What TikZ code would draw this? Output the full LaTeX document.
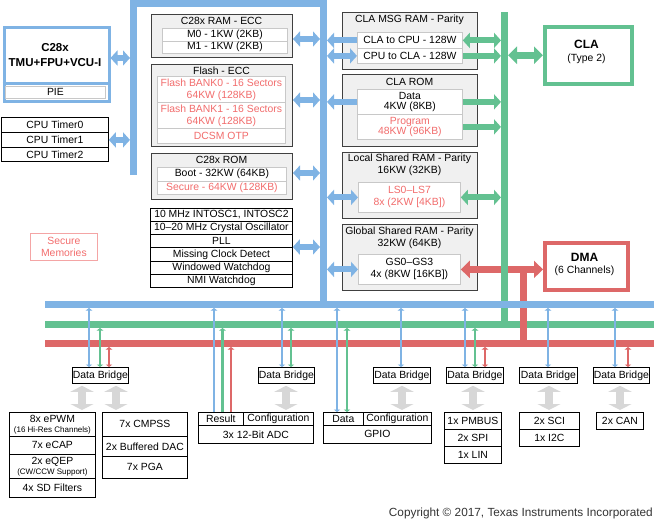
\documentclass[tikz,border=0pt]{standalone}
\usepackage{fontspec}
\setmainfont{Liberation Sans}
\usetikzlibrary{arrows.meta}
\definecolor{cblue}{RGB}{127,179,228}
\definecolor{cgreen}{RGB}{99,193,145}
\definecolor{cred}{RGB}{221,104,104}
\definecolor{cpink}{RGB}{242,108,108}
\definecolor{cpinkline}{RGB}{244,165,165}
\definecolor{memfill}{RGB}{240,240,240}
\definecolor{memline}{RGB}{64,64,64}
\definecolor{rowline}{RGB}{200,200,200}
\definecolor{cgray}{RGB}{215,215,215}
\newcommand{\fs}{\fontsize{10.4}{12}\selectfont}
\newcommand{\fss}{\fontsize{8}{9.5}\selectfont}
\newcommand{\bx}[7]{\node[#1,anchor=north west,minimum width={(#5-#3)*1pt},minimum height={(#6-#4)*1pt}] (#2) at (#3,#4) {#7};}
\newcommand{\tarr}[4]{\draw[thinar,#1] (#2,0 |- #3) -- (#2,0 |- #4);}
\newcommand{\garr}[3]{\draw[grayar] (#1,0 |- #2) -- (#1,0 |- #3);}
\begin{document}
\begin{tikzpicture}[x=1pt,y=-1pt,
 box/.style={draw=black,line width=0.8pt,fill=white,inner sep=0pt,font=\fs,align=center},
 mem/.style={draw=memline,line width=1pt,fill=memfill,inner sep=0pt},
 row/.style={draw=rowline,line width=0.8pt,fill=white,inner sep=0pt,font=\fs,align=center},
 tight/.style={font=\fontsize{10.4}{10.5}\selectfont},
 pk/.style={text=cpink},
 lbl/.style={inner sep=0pt,font=\fs,align=center},
 big/.style={inner sep=0pt,font=\bfseries\fontsize{12}{14}\selectfont},
 cpubox/.style={draw=cblue,line width=3pt,fill=white,inner sep=0pt},
 fat/.style={line width=6pt,>={Triangle[width=15pt,length=7pt]}},
 fatbig/.style={line width=6.5pt,>={Triangle[width=17pt,length=9pt]}},
 thinar/.style={line width=2.6pt,>={Triangle[width=6.5pt,length=2.5pt]}},
 grayar/.style={draw=cgray,line width=8pt,<->,>={Triangle[width=23pt,length=6pt]},shorten <=2pt,shorten >=2pt},
 bus/.style={line width=7pt},
]
\useasboundingbox (0,0) rectangle (654,520);
% reference coordinates of the buses
\coordinate (bL) at (130,0);
\coordinate (bR1) at (320,0);
\coordinate (bR2) at (327,0);
\coordinate (gV1) at (501,0);
\coordinate (gV2) at (508,0);
\coordinate (rV) at (523.5,0);
\coordinate (bB) at (0,308);
\coordinate (gB) at (0,328);
\coordinate (rB) at (0,347);

% ---------- C28x ----------
\bx{cpubox}{c28}{2.5}{25.5}{107.5}{99.5}{}
\draw[cblue,line width=3pt] (c28.west |- 0,83) -- (c28.east |- 0,83);
\bx{row}{pie}{5}{86}{105}{97.5}{PIE}
\node[inner sep=0pt,font=\bfseries\fontsize{11.5}{14}\selectfont] (c28a) at (55,48) {C28x};
\node[inner sep=0pt,font=\bfseries\fontsize{11.5}{14}\selectfont] (c28b) at (55,63) {TMU+FPU+VCU-I};

% ---------- Timers ----------
\bx{box}{t0}{1}{117}{108}{132}{CPU Timer0}
\bx{box}{t1}{1}{132}{108}{147}{CPU Timer1}
\bx{box}{t2}{1}{147}{108}{161}{CPU Timer2}

% ---------- Secure memories legend ----------
\bx{draw=cpinkline,line width=0.8pt,inner sep=0pt,font=\fs,align=center,pk}{secm}{30}{233}{97}{260}{Secure\\Memories}

% ---------- middle column ----------
\bx{mem}{ram}{151}{14}{292}{57}{}
\node[lbl] (ramT) at (221.5,21) {C28x RAM - ECC};
\bx{row}{m0}{162}{28}{287}{40.5}{M0 - 1KW (2KB)}
\bx{row}{m1}{162}{40.5}{287}{53}{M1 - 1KW (2KB)}

\bx{mem}{flash}{151}{64}{292}{146}{}
\node[lbl] (flashT) at (221.5,70.5) {Flash - ECC};
\bx{row,pk}{b0}{157}{76}{285}{102}{Flash BANK0 - 16 Sectors\\64KW (128KB)}
\bx{row,pk}{b1}{157}{102}{285}{128}{Flash BANK1 - 16 Sectors\\64KW (128KB)}
\bx{row,pk}{dcsm}{157}{128}{285}{143}{DCSM OTP}

\bx{mem}{rom}{151}{153}{292}{199}{}
\node[lbl] (romT) at (221.5,160) {C28x ROM};
\bx{row}{boot}{157}{167}{286}{180.5}{Boot - 32KW (64KB)}
\bx{row,pk}{sec}{157}{180.5}{286}{194}{Secure - 64KW (128KB)}

\bx{box}{ck1}{150}{208}{292}{221}{10 MHz INTOSC1, INTOSC2}
\bx{box}{ck2}{150}{221}{292}{234}{10–20 MHz Crystal Oscillator}
\bx{box}{ck3}{150}{234}{292}{247}{PLL}
\bx{box}{ck4}{150}{247}{292}{261}{Missing Clock Detect}
\bx{box}{ck5}{150}{261}{292}{274}{Windowed Watchdog}
\bx{box}{ck6}{150}{274}{292}{287}{NMI Watchdog}

% ---------- right column ----------
\bx{mem}{msg}{342}{12}{477}{69}{}
\node[lbl] (msgT) at (409.5,20) {CLA MSG RAM - Parity};
\bx{row}{c2c}{357}{32}{462}{48}{CLA to CPU - 128W}
\bx{row}{c2l}{357}{48}{462}{63}{CPU to CLA - 128W}

\bx{mem}{clarom}{342}{74}{477}{146}{}
\node[lbl] (claromT) at (409.5,82) {CLA ROM};
\bx{row,tight}{data}{357}{89}{462}{114}{Data\\4KW (8KB)}
\bx{row,tight,pk}{prog}{357}{114}{462}{139}{Program\\48KW (96KB)}

\bx{mem}{lsram}{342}{152}{477}{218}{}
\node[lbl] (lsT) at (409.5,165) {Local Shared RAM - Parity\\16KW (32KB)};
\bx{row,pk}{ls}{358}{182}{460}{212}{LS0–LS7\\8x (2KW [4KB])}

\bx{mem}{gsram}{342}{224}{477}{290}{}
\node[lbl] (gsT) at (409.5,237.5) {Global Shared RAM - Parity\\32KW (64KB)};
\bx{row}{gs}{358}{254}{460}{284}{GS0–GS3\\4x (8KW [16KB])}

% ---------- CLA and DMA ----------
\bx{draw=cgreen,line width=3.5pt,fill=white,inner sep=0pt}{cla}{543}{25}{630}{82}{}
\node[big] (claA) at (586.5,44) {CLA};
\node[lbl] (claB) at (586.5,58.5) {(Type 2)};
\bx{draw=cred,line width=3.5pt,fill=white,inner sep=0pt}{dma}{543}{241}{626}{288}{}
\node[big] (dmaA) at (584.5,257) {DMA};
\node[lbl] (dmaB) at (584.5,270.5) {(6 Channels)};

% ---------- bottom: data bridges ----------
\bx{box}{db1}{72}{367}{128}{383}{Data Bridge}
\bx{box}{db2}{258}{367}{314}{383}{Data Bridge}
\bx{box}{db3}{373}{367}{430}{383}{Data Bridge}
\bx{box}{db4}{446}{367}{503}{383}{Data Bridge}
\bx{box}{db5}{519}{367}{577}{383}{Data Bridge}
\bx{box}{db6}{593}{367}{649}{383}{Data Bridge}

% ---------- peripherals ----------
\bx{box}{epwm}{9}{412}{95}{436}{8x ePWM\\[-2pt]{\fss (16 Hi-Res Channels)}}
\bx{box}{ecap}{9}{436}{95}{454}{7x eCAP}
\bx{box}{eqep}{9}{454}{95}{478}{2x eQEP\\[-2pt]{\fss (CW/CCW Support)}}
\bx{box}{sdf}{9}{478}{95}{497}{4x SD Filters}

\bx{box}{cmpss}{102}{412}{187}{436}{7x CMPSS}
\bx{box}{bdac}{102}{436}{187}{456}{2x Buffered DAC}
\bx{box}{pga}{102}{456}{187}{478}{7x PGA}

\bx{box}{result}{198}{412}{243}{425}{Result}
\bx{box}{aconf}{243}{412}{313}{425}{Configuration}
\bx{box}{adc}{198}{425}{313}{443}{3x 12-Bit ADC}

\bx{box}{gdata}{323}{412}{363}{425}{Data}
\bx{box}{gconf}{363}{412}{431}{425}{Configuration}
\bx{box}{gpio}{323}{425}{431}{443}{GPIO}

\bx{box}{pmbus}{444}{412}{501}{429}{1x PMBUS}
\bx{box}{spi}{444}{429}{501}{446}{2x SPI}
\bx{box}{lin}{444}{446}{501}{463}{1x LIN}

\bx{box}{sci}{519}{412}{579}{429}{2x SCI}
\bx{box}{iic}{519}{429}{579}{446}{1x I2C}

\bx{box}{can}{596}{412}{643}{429}{2x CAN}

% ---------- buses ----------
\draw[cred,fatbig,<->] (gs.east) -- (gs.east -| dma.west);
\draw[cgreen,bus] (504.5,12) -- (504.5,328);
\draw[cgreen,bus] (45,324.5) -- (654,324.5);
\draw[cred,bus] (rV |- gs.east) -- (rV |- rB);
\draw[cred,bus] (45,343.5) -- (654,343.5);
\draw[cblue,bus] (45,304.5) -- (654,304.5);
\draw[cblue,bus,line join=miter] (133.5,175) -- (133.5,3.5) -- (323.5,3.5) -- (323.5,304.5);

% ---------- fat blue arrows ----------
\draw[cblue,fat,<->] (c28.east |- 0,58) -- (bL |- 0,58);
\draw[cblue,fat,<->] (t1.east) -- (t1.east -| bL);
\draw[cblue,fat,<->] (ram.east |- 0,39) -- (bR1 |- 0,39);
\draw[cblue,fat,<->] (flash.east |- 0,100) -- (bR1 |- 0,100);
\draw[cblue,fat,<->] (rom.east |- 0,173) -- (bR1 |- 0,173);
\draw[cblue,fat,<->] (ck4.north east) -- (ck4.north east -| bR1);
\draw[cblue,fat,->] (c2c.west) -- (c2c.west -| bR2);
\draw[cblue,fat,<->] (c2l.west) -- (c2l.west -| bR2);
\draw[cblue,fat,->] (data.west) -- (data.west -| bR2);
\draw[cblue,fat,<->] (ls.west) -- (ls.west -| bR2);
\draw[cblue,fat,<->] (gs.west) -- (gs.west -| bR2);

% ---------- fat green arrows ----------
\draw[cgreen,fat,<->] (c2c.east) -- (c2c.east -| gV1);
\draw[cgreen,fat,->] (c2l.east) -- (c2l.east -| gV1);
\draw[cgreen,fat,->] (data.east) -- (data.east -| gV1);
\draw[cgreen,fat,->] (prog.east) -- (prog.east -| gV1);
\draw[cgreen,fat,<->] (ls.east) -- (ls.east -| gV1);
\draw[cgreen,fatbig,<->] (gV2 |- cla.west) -- (cla.west);

% ---------- thin bus arrows ----------
\tarr{cblue,<->}{89}{db1.north}{bB}
\tarr{cgreen,<->}{100}{db1.north}{gB}
\tarr{cred,<->}{109}{db1.north}{rB}
\tarr{cblue,->}{214}{result.north}{bB}
\tarr{cgreen,->}{222.5}{result.north}{gB}
\tarr{cred,->}{231}{result.north}{rB}
\tarr{cblue,<->}{282}{db2.north}{bB}
\tarr{cgreen,<->}{291}{db2.north}{gB}
\tarr{cblue,<->}{337}{gdata.north}{bB}
\tarr{cgreen,<->}{347}{gdata.north}{gB}
\tarr{cblue,<->}{401}{db3.north}{bB}
\tarr{cblue,<->}{465}{db4.north}{bB}
\tarr{cgreen,<->}{475}{db4.north}{gB}
\tarr{cred,<->}{485}{db4.north}{rB}
\tarr{cblue,<->}{548}{db5.north}{bB}
\tarr{cblue,<->}{615}{db6.north}{bB}
\tarr{cred,<->}{628}{db6.north}{rB}

% ---------- gray bridge arrows ----------
\garr{82}{db1.south}{epwm.north}
\garr{116}{db1.south}{cmpss.north}
\garr{286}{db2.south}{aconf.north}
\garr{402}{db3.south}{gconf.north}
\garr{473}{db4.south}{pmbus.north}
\garr{549}{db5.south}{sci.north}
\garr{620}{db6.south}{can.north}

\node[inner sep=0pt,anchor=east,text=black!80,font=\fontsize{11.8}{14}\selectfont] (copy) at (653,513) {Copyright © 2017, Texas Instruments Incorporated};
\end{tikzpicture}
\end{document}
